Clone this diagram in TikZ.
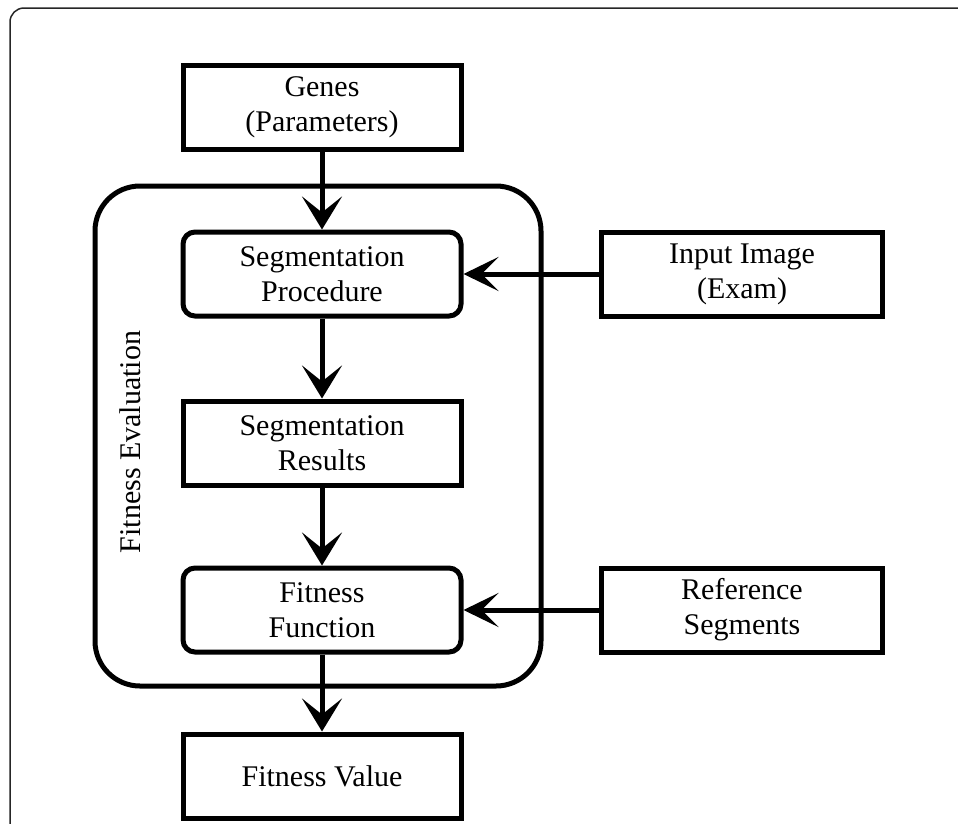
\documentclass[tikz,border=0pt]{standalone}
\usepackage{fontspec}
\setmainfont{Liberation Serif}
\usetikzlibrary{arrows.meta}
\begin{document}
\begin{tikzpicture}[x=1pt,y=-1pt,
  box/.style={draw=black, line width=5pt, fill=white, minimum width=278pt, minimum height=84pt,
    align=center, inner sep=0pt, font=\fontsize{30}{35}\selectfont},
  rbox/.style={box, rounded corners=12pt},
  conn/.style={line width=5pt, -{Stealth[length=33pt, width=40pt, inset=16pt]}},
  connh/.style={line width=5pt, -{Stealth[length=35pt, width=34pt, inset=17pt]}}]
\useasboundingbox (0,0) rectangle (958,823);
\clip (0,0) rectangle (958,823);
\fill[white] (0,0) rectangle (958,823);
\draw[line width=1.5pt, black!85, rounded corners=14pt] (10,8) rectangle (1100,1000);
% container
\draw[line width=5pt, rounded corners=45pt] (95,186) rectangle (541,686);
\node[rotate=90, font=\fontsize{30}{35}\selectfont] (lbl) at (130,442) {Fitness Evaluation};
% nodes
\node[box] (genes) at (322,107) {Genes\\(Parameters)};
\node[rbox] (segproc) at (322,274) {Segmentation\\Procedure};
\node[box] (segres) at (322,443) {Segmentation\\Results};
\node[rbox] (fitfun) at (322,610) {Fitness\\Function};
\node[box] (fitval) at (322,776) {Fitness Value};
\node[box, minimum width=281pt] (input) at (742,274) {Input Image\\(Exam)};
\node[box, minimum width=281pt] (ref) at (742,610) {Reference\\Segments};
% connectors
\draw[conn] (genes) -- (segproc);
\draw[conn] (segproc) -- (segres);
\draw[conn] (segres) -- (fitfun);
\draw[conn] (fitfun) -- (fitval);
\draw[connh] (input) -- (segproc);
\draw[connh] (ref) -- (fitfun);
\end{tikzpicture}
\end{document}
